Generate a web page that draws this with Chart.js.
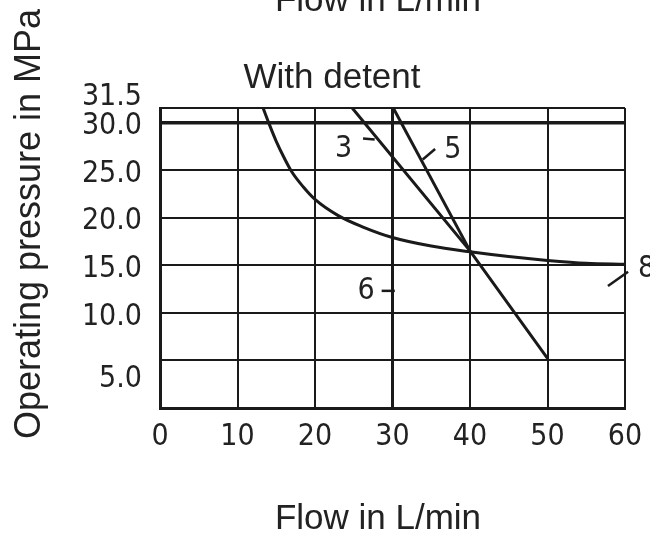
<!DOCTYPE html>
<html lang="en">
<head>
    <meta charset="UTF-8">
    <title>Operating pressure vs flow</title>
    <script src="https://cdn.jsdelivr.net/npm/chart.js"></script>
    <style>
        body { margin: 0; background: #fff; }
        canvas { display: block; }
    </style>
</head>
<body>
    <canvas id="flowChart" width="650" height="533"></canvas>
    <script>
        // axis ticks
        const xTicks = [0, 10, 20, 30, 40, 50, 60];
        const yTicks = [0, 5, 10, 15, 20, 25, 30, 31.5];

        // curves (flow L/min, pressure MPa)
        const curve8Flow = [13.3, 14.0, 15.0, 16.0, 17.0, 18.5, 20.0, 23.0, 26.2, 30.0, 35.0, 40.0, 45.0, 50.0, 55.0, 60.0];
        const curve8Pressure = [31.5, 30.0, 28.0, 26.3, 24.8, 23.2, 21.9, 20.2, 19.0, 17.9, 17.0, 16.4, 15.9, 15.5, 15.2, 15.1];
        const curve3Flow = [24.8, 40, 50];
        const curve3Pressure = [31.5, 16.5, 5.2];
        const curve5Flow = [30.1, 40];
        const curve5Pressure = [31.5, 16.5];
        const curve6Flow = [30, 30];
        const curve6Pressure = [0, 31.5];

        // curve names with their callouts (label spot, leader start, leader end) in data units
        const curveNames = ['3', '5', '6', '8'];
        const callouts = [
            [[23.7, 27.2], [26.2, 28.3], [27.7, 28.2]],
            [[37.8, 27.1], [33.9, 26.1], [35.5, 27.2]],
            [[26.6, 12.3], [28.6, 12.3], [30.3, 12.3]],
            [[62.8, 14.6], [57.8, 12.8], [60.4, 14.3]]
        ];

        const ink = '#1a1a1a';
        const numFont = "'DejaVu Sans Condensed', 'Liberation Sans Narrow', 'Liberation Sans', sans-serif";
        const textFont = "'Liberation Sans', Arial, sans-serif";

        const pts = (xs, ys) => xs.map((x, i) => ({ x: x, y: ys[i] }));

        const textPlugin = {
            id: 'texts',
            afterDraw(chart) {
                const ctx = chart.ctx;
                const sx = chart.scales.x, sy = chart.scales.y;
                ctx.save();
                ctx.fillStyle = '#222';
                ctx.textAlign = 'center';
                ctx.font = '35px ' + textFont;
                ctx.textBaseline = 'alphabetic';
                ctx.fillText('Flow in L/min', 378, 11);
                ctx.fillText('Flow in L/min', 378, 529);
                ctx.fillText('With detent', 332, 88);

                ctx.save();
                ctx.translate(40, 224);
                ctx.rotate(-Math.PI / 2);
                ctx.font = '36px ' + textFont;
                ctx.fillText('Operating pressure in MPa', 0, 0);
                ctx.restore();

                // curve callouts
                ctx.font = '30px ' + numFont;
                ctx.textBaseline = 'middle';
                ctx.strokeStyle = ink;
                ctx.lineWidth = 2.5;
                curveNames.forEach((name, i) => {
                    const c = callouts[i];
                    ctx.fillText(name, sx.getPixelForValue(c[0][0]), sy.getPixelForValue(c[0][1]));
                    ctx.beginPath();
                    ctx.moveTo(sx.getPixelForValue(c[1][0]), sy.getPixelForValue(c[1][1]));
                    ctx.lineTo(sx.getPixelForValue(c[2][0]), sy.getPixelForValue(c[2][1]));
                    ctx.stroke();
                });
                ctx.restore();
            }
        };

        const lineStyle = { borderColor: ink, borderWidth: 3, pointRadius: 0, fill: false };

        // the top and bottom labels sit off their lines in the original
        function yLabel(v) {
            if (v === 0) return '';
            if (v === 31.5) return ['31.5', ''];
            if (v === 5) return ['', '5.0'];
            return v.toFixed(1);
        }

        new Chart(document.getElementById('flowChart'), {
            type: 'line',
            data: {
                datasets: [
                    Object.assign({ label: '8', data: pts(curve8Flow, curve8Pressure), cubicInterpolationMode: 'monotone' }, lineStyle),
                    Object.assign({ label: '3', data: pts(curve3Flow, curve3Pressure) }, lineStyle),
                    Object.assign({ label: '5', data: pts(curve5Flow, curve5Pressure) }, lineStyle),
                    Object.assign({ label: '6', data: pts(curve6Flow, curve6Pressure) }, lineStyle)
                ]
            },
            options: {
                responsive: false,
                animation: false,
                layout: { padding: { top: 108, right: 25, bottom: 65, left: 0 } },
                plugins: { legend: { display: false }, tooltip: { enabled: false } },
                scales: {
                    x: {
                        type: 'linear',
                        min: 0,
                        max: 60,
                        afterBuildTicks: s => { s.ticks = xTicks.map(v => ({ value: v })); },
                        afterFit: s => { s.height = 60; s.paddingLeft = 0; s.paddingRight = 0; },
                        ticks: {
                            color: '#222',
                            font: { family: numFont, size: 30 },
                            padding: 11,
                            maxRotation: 0,
                            autoSkip: false,
                            callback: v => String(v)
                        },
                        grid: { color: ink, lineWidth: 2, drawTicks: false },
                        border: { color: ink, width: 3 }
                    },
                    y: {
                        type: 'linear',
                        min: 0,
                        max: 31.5,
                        afterBuildTicks: s => { s.ticks = yTicks.map(v => ({ value: v })); },
                        afterFit: s => { s.width = 160; s.paddingTop = 0; s.paddingBottom = 0; },
                        ticks: {
                            color: '#222',
                            font: { family: numFont, size: 30, lineHeight: 1.0 },
                            padding: 18,
                            labelOffset: 4,
                            autoSkip: false,
                            callback: yLabel
                        },
                        grid: {
                            color: ink,
                            lineWidth: c => c.tick && c.tick.value === 30 ? 3.5 : 2,
                            drawTicks: false
                        },
                        border: { color: ink, width: 3 }
                    }
                }
            },
            plugins: [textPlugin]
        });
    </script>
</body>
</html>
